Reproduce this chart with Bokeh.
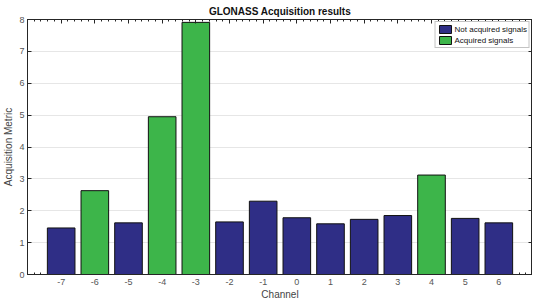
import numpy as np
from bokeh.plotting import figure
from bokeh.models import (ColumnDataSource, LinearAxis, FixedTicker, Range1d, Legend, LegendItem,
                          CustomJSTickFormatter)
from bokeh.embed import file_html
from bokeh.resources import INLINE

channels = [-7, -6, -5, -4, -3, -2, -1, 0, 1, 2, 3, 4, 5, 6]
metrics = [1.46, 2.63, 1.62, 4.95, 7.91, 1.65, 2.30, 1.78, 1.59, 1.73, 1.85, 3.12, 1.76, 1.62]
acquired = [False, True, False, True, True, False, False, False, False, False, False, True, False, False]
y_ticks = [0, 1, 2, 3, 4, 5, 6, 7, 8]

navy = "#2F2E86"
green = "#3DB54A"
FONT = "Liberation Sans"
GRAY = "#555555"
BAR_W = 0.82

src_no = ColumnDataSource(dict(x=[c for c, a in zip(channels, acquired) if not a],
                               y=[m for m, a in zip(metrics, acquired) if not a]))
src_yes = ColumnDataSource(dict(x=[c for c, a in zip(channels, acquired) if a],
                                y=[m for m, a in zip(metrics, acquired) if a]))

p = figure(width=532, height=302, output_backend="svg", toolbar_location=None,
           x_range=Range1d(-8, 7), y_range=Range1d(0, 8),
           x_axis_location=None, y_axis_location=None,
           min_border_left=3, min_border_right=0, min_border_top=6, min_border_bottom=0)
p.title.text = "GLONASS Acquisition results"
p.title.align = "center"
p.title.text_font = FONT
p.title.text_font_size = "10px"
p.title.text_font_style = "bold"
p.title.text_color = "#111111"
p.title.standoff = 6

p.outline_line_color = "#262626"
p.outline_line_width = 1

r1 = p.vbar(x="x", top="y", width=BAR_W, source=src_no, fill_color=navy, line_color="#111111", line_width=1)
r2 = p.vbar(x="x", top="y", width=BAR_W, source=src_yes, fill_color=green, line_color="#111111", line_width=1)

all_minor = [round(v, 1) for v in np.arange(-8, 7.001, 0.2)]
# minor ticks hidden behind bars in the reference: keep only the visible ones
minor_bottom = [v for v in all_minor if all(abs(v - c) > BAR_W / 2 for c in channels)]

def style(ax, labels=True):
    ax.axis_line_color = "#262626"
    ax.major_tick_line_color = "#262626"
    ax.minor_tick_line_color = "#262626"
    ax.major_tick_in = 4
    ax.major_tick_out = 0
    ax.minor_tick_in = 2
    ax.minor_tick_out = 0
    ax.major_label_text_font = FONT
    ax.major_label_text_font_size = "9px"
    ax.major_label_text_color = GRAY
    ax.major_label_standoff = 3 if labels else 0
    if labels:
        ax.formatter = CustomJSTickFormatter(code="return tick.toString()")
    else:
        ax.formatter = CustomJSTickFormatter(code="return ''")
    ax.axis_label_text_font = FONT
    ax.axis_label_text_font_size = "10px"
    ax.axis_label_text_font_style = "normal"
    ax.axis_label_text_color = "#444444"
    ax.axis_label_standoff = 2

xb = LinearAxis(ticker=FixedTicker(ticks=channels, minor_ticks=minor_bottom), axis_label="Channel")
style(xb)
xb.major_tick_in = 0
xb.major_label_standoff = 4
xb.axis_label_standoff = 1
p.add_layout(xb, "below")

xt = LinearAxis(ticker=FixedTicker(ticks=channels, minor_ticks=all_minor))
style(xt, labels=False)
p.add_layout(xt, "above")

yl = LinearAxis(ticker=FixedTicker(ticks=y_ticks), axis_label="Acquisition Metric")
style(yl)
yl.major_label_standoff = 3
yl.axis_label_standoff = 2
p.add_layout(yl, "left")

yr = LinearAxis(ticker=FixedTicker(ticks=y_ticks))
style(yr, labels=False)
p.add_layout(yr, "right")

p.xgrid.visible = False
p.ygrid.ticker = FixedTicker(ticks=y_ticks)
p.ygrid.grid_line_color = "#e6e6e6"
p.ygrid.grid_line_width = 1

legend = Legend(items=[LegendItem(label="Not acquired signals", renderers=[r1]),
                       LegendItem(label="Acquired signals", renderers=[r2])],
                location="top_right")
legend.label_text_font = FONT
legend.label_text_font_size = "8px"
legend.label_text_color = "#111111"
legend.glyph_width = 15
legend.glyph_height = 10
legend.label_height = 10
legend.label_standoff = 2
legend.padding = 2
legend.spacing = 1
legend.margin = 2
legend.border_line_color = "#888888"
legend.border_line_width = 1
legend.background_fill_alpha = 1
p.add_layout(legend)

open("out.html", "w").write(file_html(p, INLINE))
